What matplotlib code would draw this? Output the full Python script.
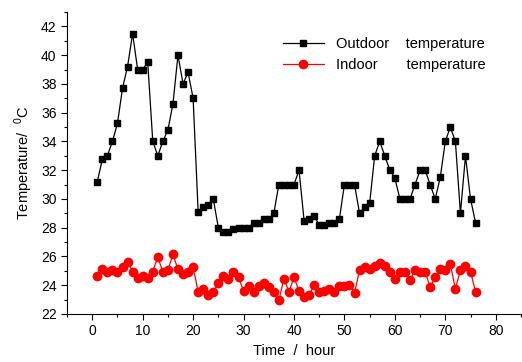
import matplotlib
matplotlib.use("Agg")
import matplotlib.pyplot as plt
from matplotlib.ticker import MultipleLocator

plt.rcParams['font.family'] = ['Liberation Sans', 'DejaVu Sans']

hours = list(range(1, 77))

outdoor = [31.2, 32.75, 33.0, 34.0, 35.25, 37.7, 39.2, 41.5, 39.0, 39.0,
           39.5, 34.0, 33.0, 34.0, 34.8, 36.6, 40.0, 38.0, 38.8, 37.0,
           29.1, 29.45, 29.6, 30.0, 28.0, 27.7, 27.7, 27.9, 28.0, 28.0,
           28.0, 28.35, 28.35, 28.6, 28.6, 29.0, 31.0, 31.0, 31.0, 31.0,
           32.0, 28.5, 28.6, 28.8, 28.2, 28.2, 28.35, 28.35, 28.6, 31.0,
           31.0, 31.0, 29.0, 29.45, 29.7, 33.0, 34.0, 33.0, 32.0, 31.45,
           30.0, 30.0, 30.0, 31.0, 32.0, 32.0, 31.0, 30.0, 31.5, 34.0,
           35.0, 34.0, 29.0, 33.0, 30.0, 28.35]

indoor = [24.65, 25.1, 24.95, 25.05, 24.95, 25.25, 25.65, 24.95, 24.5, 24.65,
          24.5, 24.95, 25.95, 24.95, 25.05, 26.15, 25.1, 24.8, 24.95, 25.25,
          23.55, 23.75, 23.3, 23.55, 24.15, 24.65, 24.45, 24.95, 24.55, 23.6,
          23.95, 23.55, 23.95, 24.15, 23.85, 23.55, 22.95, 24.45, 23.55, 24.55,
          23.6, 23.15, 23.3, 24.05, 23.55, 23.6, 23.75, 23.55, 23.95, 23.95,
          24.05, 23.45, 25.05, 25.3, 25.1, 25.35, 25.55, 25.35, 24.95, 24.45,
          24.95, 24.95, 24.35, 25.05, 24.95, 24.95, 23.85, 24.55, 25.1, 25.05,
          25.45, 23.75, 25.05, 25.35, 24.95, 23.55]

fig = plt.figure(figsize=(5.22, 3.62), dpi=100)
ax = fig.add_axes([0.1284, 0.1326, 0.8696, 0.8343])

ax.plot(hours, outdoor, color="black", lw=0.9, marker="s", ms=4.2,
        label="Outdoor    temperature")
ax.plot(hours, indoor, color="red", lw=0.9, marker="o", ms=6,
        label="Indoor       temperature")

ax.set_xlim(-5, 85)
ax.set_ylim(22, 43)
ax.xaxis.set_major_locator(MultipleLocator(10))
ax.xaxis.set_minor_locator(MultipleLocator(5))
ax.yaxis.set_major_locator(MultipleLocator(2))
ax.yaxis.set_minor_locator(MultipleLocator(1))
ax.tick_params(which="major", length=4, width=0.8, labelsize=10, direction="out")
ax.tick_params(which="minor", length=2.5, width=0.8, direction="out")
ax.spines["top"].set_visible(False)
ax.spines["right"].set_visible(False)

ax.set_xlabel("Time  /  hour", fontsize=10.5, labelpad=4)
ax.set_ylabel("Temperature/  $^{\\mathregular{0}}$C", fontsize=10.5, labelpad=4)

ax.legend(loc="upper left", bbox_to_anchor=(0.463, 0.935), borderaxespad=0,
          frameon=False, fontsize=10.5, handlelength=2.8, handletextpad=0.8,
          labelspacing=0.45)

fig.savefig("out.png", dpi=100)
